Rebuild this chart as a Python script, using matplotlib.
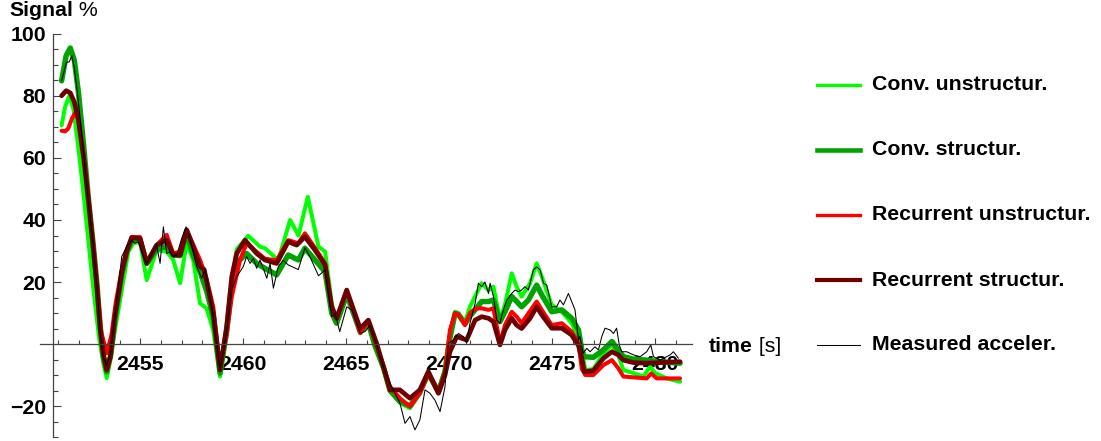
import matplotlib
matplotlib.use("Agg")
import matplotlib.pyplot as plt
from matplotlib.lines import Line2D
from matplotlib.ticker import FixedLocator

plt.rcParams['font.family'] = ['Liberation Sans', 'DejaVu Sans']

# ---- data -------------------------------------------------------------
conv_unstr_t = [2451.18, 2451.35, 2451.55, 2451.75, 2452.0, 2452.25, 2452.5, 2452.75, 2453.0,
                2453.2, 2453.37, 2453.6, 2453.77, 2454.1, 2454.42, 2454.66, 2454.99, 2455.31,
                2455.79, 2456.28, 2456.6, 2456.93, 2457.25, 2457.57, 2457.9, 2458.22, 2458.54,
                2458.87, 2459.1, 2459.44, 2459.68, 2460.24, 2460.81, 2461.05, 2461.7, 2462.27,
                2462.68, 2463.13, 2463.65, 2463.97, 2464.29, 2464.53, 2465.03, 2465.7, 2466.07,
                2466.4, 2466.8, 2467.12, 2467.6, 2468.09, 2468.57, 2468.98, 2469.47, 2469.79,
                2470.03, 2470.28, 2470.44, 2470.76, 2471.0, 2471.3, 2471.57, 2471.9, 2472.14,
                2472.46, 2472.7, 2473.03, 2473.27, 2473.51, 2473.92, 2474.24, 2474.49, 2474.97,
                2475.46, 2475.94, 2476.18, 2476.43, 2476.6, 2476.99, 2477.48, 2477.89, 2478.2,
                2478.45, 2478.94, 2479.42, 2479.75, 2479.99, 2480.56, 2481.2]
conv_unstr_v = [70.5, 76.5, 80.0, 76.0, 63.0, 48.0, 32.0, 16.0, 2.0,
                -6.0, -11.0, -3.0, 4.5, 17.4, 29.8, 32.5, 33.0, 20.6,
                30.3, 29.8, 27.1, 19.6, 32.5, 27.1, 13.1, 11.5, 4.5,
                -10.5, 0.0, 19.6, 30.6, 34.9, 31.4, 30.9, 27.0, 40.0,
                35.0, 47.5, 31.4, 29.8, 13.2, 6.7, 15.8, 3.5, 6.7,
                -0.9, -8.0, -15.0, -19.0, -20.7, -16.0, -9.5, -15.0, -8.0,
                3.0, 10.4, 10.0, 7.0, 12.0, 16.0, 19.6, 17.4, 18.5,
                7.7, 12.6, 22.8, 18.5, 15.3, 19.6, 26.0, 21.7, 12.6,
                10.4, 6.7, 3.4, -1.9, -8.4, -8.1, -3.0, -0.3, -3.5,
                -8.4, -9.4, -10.5, -7.3, -9.4, -11.1, -12.2]

conv_str_t = [2451.18, 2451.4, 2451.6, 2451.8, 2452.0, 2452.25, 2452.48, 2452.7, 2452.9,
              2453.05, 2453.2, 2453.37, 2453.55, 2453.77, 2454.1, 2454.34, 2454.58, 2454.99,
              2455.31, 2455.79, 2456.28, 2456.6, 2456.93, 2457.25, 2457.57, 2457.9, 2458.22,
              2458.54, 2458.87, 2459.19, 2459.44, 2459.75, 2460.16, 2460.65, 2461.05, 2461.62,
              2462.18, 2462.67, 2462.99, 2463.48, 2463.97, 2464.29, 2464.53, 2465.02, 2465.67,
              2466.07, 2466.39, 2466.8, 2467.12, 2467.6, 2468.09, 2468.57, 2468.98, 2469.47,
              2469.79, 2470.03, 2470.28, 2470.44, 2470.76, 2471.0, 2471.25, 2471.57, 2471.9,
              2472.14, 2472.46, 2472.7, 2473.03, 2473.27, 2473.51, 2473.84, 2474.24, 2474.49,
              2474.97, 2475.46, 2475.94, 2476.27, 2476.43, 2476.55, 2476.99, 2477.48, 2477.89,
              2478.2, 2478.45, 2478.94, 2479.58, 2480.23, 2481.2]
conv_str_v = [84.9, 93.0, 95.5, 91.5, 81.0, 64.0, 47.0, 33.0, 19.0,
              6.0, -4.0, -9.0, -4.0, 8.0, 22.5, 29.5, 33.5, 33.5,
              26.0, 30.5, 31.5, 28.7, 28.5, 35.7, 28.7, 23.3, 17.0,
              8.8, -9.4, 4.0, 19.0, 26.6, 29.2, 26.0, 24.4, 22.3,
              28.7, 27.1, 30.9, 27.1, 23.3, 10.0, 6.7, 16.0, 4.0,
              6.7, -0.5, -7.5, -15.0, -18.5, -20.0, -15.5, -9.5, -15.5,
              -9.0, 2.0, 9.9, 9.5, 6.5, 9.0, 11.0, 13.7, 13.7,
              14.2, 7.2, 10.4, 15.3, 13.7, 12.0, 14.2, 19.0, 15.8,
              10.4, 11.0, 8.3, 4.5, -1.9, -4.1, -4.3, -1.9, 0.8,
              -1.9, -4.1, -4.9, -5.2, -5.7, -6.2]

rec_unstr_t = [2451.18, 2451.35, 2451.5, 2451.7, 2451.91, 2452.1, 2452.3, 2452.5, 2452.75,
               2452.95, 2453.1, 2453.37, 2453.6, 2453.8, 2454.1, 2454.34, 2454.58, 2454.99,
               2455.31, 2455.79, 2456.28, 2456.6, 2456.93, 2457.25, 2457.57, 2457.9, 2458.22,
               2458.54, 2458.87, 2459.19, 2459.44, 2459.84, 2460.16, 2460.65, 2461.05, 2461.62,
               2462.18, 2462.67, 2462.99, 2463.48, 2463.97, 2464.29, 2464.53, 2465.02, 2465.67,
               2466.07, 2466.39, 2466.8, 2467.12, 2467.6, 2468.09, 2468.57, 2468.98, 2469.47,
               2469.79, 2470.03, 2470.28, 2470.44, 2470.76, 2471.0, 2471.3, 2471.57, 2471.9,
               2472.14, 2472.46, 2472.7, 2473.03, 2473.27, 2473.51, 2473.84, 2474.24, 2474.49,
               2474.97, 2475.46, 2475.94, 2476.27, 2476.43, 2476.6, 2476.99, 2477.48, 2477.89,
               2478.2, 2478.45, 2479.58, 2479.8, 2480.07, 2481.2]
rec_unstr_v = [68.8, 68.6, 69.5, 73.0, 75.3, 68.0, 58.0, 46.0, 30.0,
               15.0, 4.0, -3.0, 3.0, 13.0, 24.0, 30.0, 34.5, 34.5,
               26.5, 31.9, 35.2, 29.2, 29.8, 36.8, 32.0, 27.1, 21.0,
               12.0, -7.3, 3.0, 15.3, 27.0, 32.5, 29.7, 27.5, 27.0,
               33.5, 32.5, 35.7, 31.0, 26.0, 12.0, 8.0, 17.4, 3.5,
               7.5, 1.0, -7.0, -13.8, -17.5, -20.2, -15.9, -9.5, -15.4,
               -9.0, 4.5, 9.9, 9.5, 6.1, 10.0, 11.5, 11.5, 11.0,
               11.5, 0.2, 6.1, 10.4, 8.8, 6.7, 9.9, 13.7, 11.0,
               6.1, 6.7, 4.0, 0.2, -8.0, -10.0, -10.0, -6.8, -5.2,
               -7.8, -10.5, -11.1, -9.5, -11.1, -11.1]

rec_str_t = [2451.18, 2451.4, 2451.6, 2451.8, 2452.0, 2452.25, 2452.48, 2452.7, 2452.9,
             2453.05, 2453.2, 2453.37, 2453.55, 2453.77, 2454.1, 2454.34, 2454.58, 2454.99,
             2455.31, 2455.79, 2456.28, 2456.6, 2456.93, 2457.25, 2457.57, 2457.9, 2458.1,
             2458.54, 2458.87, 2459.19, 2459.44, 2459.68, 2460.08, 2460.65, 2461.05, 2461.62,
             2462.18, 2462.59, 2462.99, 2463.48, 2463.97, 2464.29, 2464.53, 2465.02, 2465.67,
             2466.07, 2466.47, 2466.8, 2467.12, 2467.6, 2468.09, 2468.57, 2468.98, 2469.47,
             2469.79, 2470.03, 2470.36, 2470.84, 2471.25, 2471.57, 2471.9, 2472.14, 2472.46,
             2472.7, 2473.03, 2473.27, 2473.51, 2473.92, 2474.24, 2474.49, 2474.97, 2475.46,
             2475.94, 2476.27, 2476.43, 2476.55, 2476.99, 2477.48, 2477.89, 2478.2, 2478.45,
             2478.94, 2479.58, 2481.2]
rec_str_v = [80.1, 81.7, 81.0, 78.0, 72.0, 60.0, 46.5, 32.0, 18.0,
             5.0, -3.0, -8.4, -4.0, 9.0, 23.0, 30.0, 34.3, 34.0,
             26.0, 31.9, 33.5, 28.7, 28.7, 36.8, 31.4, 25.0, 24.0,
             10.0, -8.4, 5.6, 21.7, 29.2, 33.5, 29.2, 27.1, 26.0,
             33.0, 31.9, 34.6, 30.3, 25.5, 12.0, 8.3, 17.4, 5.0,
             7.7, 0.2, -7.3, -14.8, -14.8, -17.5, -14.8, -8.9, -15.9,
             -10.0, -2.5, 2.4, 1.3, 7.7, 8.8, 8.3, 7.2, -0.3,
             4.5, 8.3, 6.1, 5.0, 8.3, 12.0, 9.4, 5.1, 5.1,
             2.9, -0.5, -4.6, -8.9, -8.6, -4.6, -2.5, -3.5, -5.2,
             -6.0, -6.2, -5.7]

measured_t = [2451.18, 2451.3, 2451.42, 2451.55, 2451.68, 2451.8, 2451.95, 2452.2, 2452.45,
              2452.7, 2452.9, 2453.05, 2453.2, 2453.37, 2453.55, 2453.77, 2454.1, 2454.34,
              2454.58, 2454.74, 2454.9, 2455.15, 2455.31, 2455.55, 2455.79, 2455.96, 2456.12,
              2456.28, 2456.44, 2456.6, 2456.77, 2457.01, 2457.22, 2457.41, 2457.74, 2457.98,
              2458.14, 2458.3, 2458.54, 2458.87, 2459.19, 2459.44, 2459.68, 2460.0, 2460.16,
              2460.33, 2460.49, 2460.65, 2460.81, 2460.97, 2461.14, 2461.3, 2461.46, 2461.7,
              2461.94, 2462.18, 2462.67, 2462.99, 2463.23, 2463.65, 2463.97, 2464.29, 2464.45,
              2464.68, 2465.02, 2465.27, 2465.67, 2465.91, 2466.15, 2466.47, 2466.8, 2467.12,
              2467.6, 2467.85, 2468.09, 2468.33, 2468.57, 2468.82, 2469.06, 2469.3, 2469.55,
              2469.79, 2469.95, 2470.2, 2470.44, 2470.68, 2470.84, 2471.0, 2471.25, 2471.41,
              2471.57, 2471.73, 2471.9, 2471.98, 2472.14, 2472.3, 2472.46, 2472.62, 2472.79,
              2473.03, 2473.19, 2473.35, 2473.51, 2473.67, 2473.84, 2474.08, 2474.24, 2474.41,
              2474.57, 2474.73, 2474.97, 2475.21, 2475.37, 2475.54, 2475.78, 2475.94, 2476.1,
              2476.27, 2476.34, 2476.5, 2476.67, 2476.83, 2477.07, 2477.24, 2477.4, 2477.56,
              2477.81, 2477.97, 2478.12, 2478.25, 2478.37, 2478.61, 2478.94, 2479.26, 2479.58,
              2479.78, 2479.91, 2480.23, 2480.72, 2480.88, 2481.12]
measured_v = [84.9, 88.0, 90.9, 91.0, 93.0, 89.0, 81.0, 65.0, 48.0,
              33.0, 18.0, 4.0, -4.0, -7.0, -3.0, 9.0, 28.2, 31.4,
              33.5, 32.5, 33.0, 28.2, 26.0, 29.2, 31.9, 26.0, 37.8,
              29.2, 29.8, 28.2, 28.7, 34.1, 37.8, 34.1, 25.0, 21.2,
              23.9, 18.5, 8.8, -8.4, 4.0, 17.4, 21.7, 25.0, 28.2,
              26.0, 27.6, 24.4, 27.1, 24.4, 21.2, 26.0, 18.0, 25.0,
              27.0, 25.5, 24.0, 31.0, 28.2, 22.0, 23.9, 8.8, 9.9,
              4.0, 12.0, 11.0, 3.5, 4.0, 6.0, 0.0, -7.5, -12.7,
              -19.0, -25.6, -23.4, -27.7, -24.5, -14.8, -15.9, -18.1, -21.8,
              -13.8, 0.2, 1.3, 3.4, 2.4, 0.2, 6.6, 13.0, 19.6,
              18.5, 20.0, 16.3, 19.6, 15.3, 7.7, 6.7, 11.0, 14.2,
              16.3, 17.4, 16.9, 17.4, 18.5, 17.4, 23.9, 24.9, 23.9,
              19.6, 19.0, 12.0, 12.0, 14.2, 12.6, 16.3, 13.7, 11.0,
              1.3, 2.4, -3.0, -1.4, -2.5, -0.9, -1.9, 2.4, 5.1,
              4.5, 3.4, 5.1, -0.3, -2.5, -2.5, -3.5, -4.1, -2.5,
              -0.3, -4.1, -5.2, -3.5, -2.5, -4.6]

labels = ["Conv. unstructur.", "Conv. structur.", "Recurrent unstructur.",
          "Recurrent structur.", "Measured acceler."]
series_t = [conv_unstr_t, conv_str_t, rec_unstr_t, rec_str_t, measured_t]
series_v = [conv_unstr_v, conv_str_v, rec_unstr_v, rec_str_v, measured_v]
colors = ["#00FF00", "#00A300", "#FF0000", "#700000", "#000000"]
widths = [2.9, 3.9, 2.9, 3.4, 0.75]
legend_widths = [2.4, 3.3, 2.4, 3.0, 0.75]

x_major = [2455, 2460, 2465, 2470, 2475, 2480]
y_major = [-20, 20, 40, 60, 80, 100]

# ---- figure -----------------------------------------------------------
W, H = 1101, 441
FS = 15.3
fig = plt.figure(figsize=(W / 100, H / 100), dpi=100)
ax = fig.add_axes([40 / W, (H - 437) / H, 652 / W, 403 / H])
ax.set_xlim(2450.131, 2481.78)
ax.set_ylim(-30, 100)

for t, v, c, w in zip(series_t, series_v, colors, widths):
    ax.plot(t, v, color=c, lw=w, solid_joinstyle='round', solid_capstyle='round')

axis_col = '#444444'
for s in ['top', 'right']:
    ax.spines[s].set_visible(False)
ax.spines['bottom'].set_position(('data', 0))
ax.spines['left'].set_position(('data', 2450.777))
for s in ['bottom', 'left']:
    ax.spines[s].set_color(axis_col)
    ax.spines[s].set_linewidth(0.9)

ax.xaxis.set_major_locator(FixedLocator(x_major))
ax.xaxis.set_minor_locator(FixedLocator(range(2451, 2482)))
ax.yaxis.set_major_locator(FixedLocator(y_major))
ax.yaxis.set_minor_locator(FixedLocator([v for v in range(-30, 101, 5) if v % 20 and v != 0]))
ax.set_xticklabels([str(x) for x in x_major])
ax.set_yticklabels(["\u221220" if y < 0 else str(y) for y in y_major])

ax.tick_params(axis='x', which='both', direction='in', color=axis_col, width=0.8)
ax.tick_params(axis='x', which='major', length=4.5, pad=8, labelsize=FS)
ax.tick_params(axis='x', which='minor', length=3)
ax.tick_params(axis='y', which='both', direction='in', color=axis_col, width=0.8)
ax.tick_params(axis='y', which='major', length=5.5, pad=5, labelsize=FS)
ax.tick_params(axis='y', which='minor', length=3.5)
for lbl in ax.get_xticklabels() + ax.get_yticklabels():
    lbl.set_fontweight('bold')
ax.patch.set_visible(False)

# axis titles (bold word followed by a regular unit part)
t1 = fig.text(9 / W, 1 - 16 / H, "Signal", fontsize=FS, fontweight='bold', va='baseline')
ax.annotate(" %", xy=(1, 0), xycoords=t1, va='bottom', ha='left', fontsize=FS,
            annotation_clip=False)
t2 = fig.text(709 / W, 1 - 352 / H, "time", fontsize=FS, fontweight='bold', va='baseline')
ax.annotate(" [s]", xy=(1, 0), xycoords=t2, va='bottom', ha='left', fontsize=FS,
            annotation_clip=False)

# legend
rows = [85, 150, 215, 280, 345]
for lab, c, w, r in zip(labels, colors, legend_widths, rows):
    y = 1 - r / H
    fig.add_artist(Line2D([817 / W, 860 / W], [y, y], color=c, lw=w,
                          transform=fig.transFigure))
    fig.text(872 / W, y, lab, fontsize=FS, fontweight='bold', va='center', ha='left')

fig.savefig("out.png", dpi=100)
